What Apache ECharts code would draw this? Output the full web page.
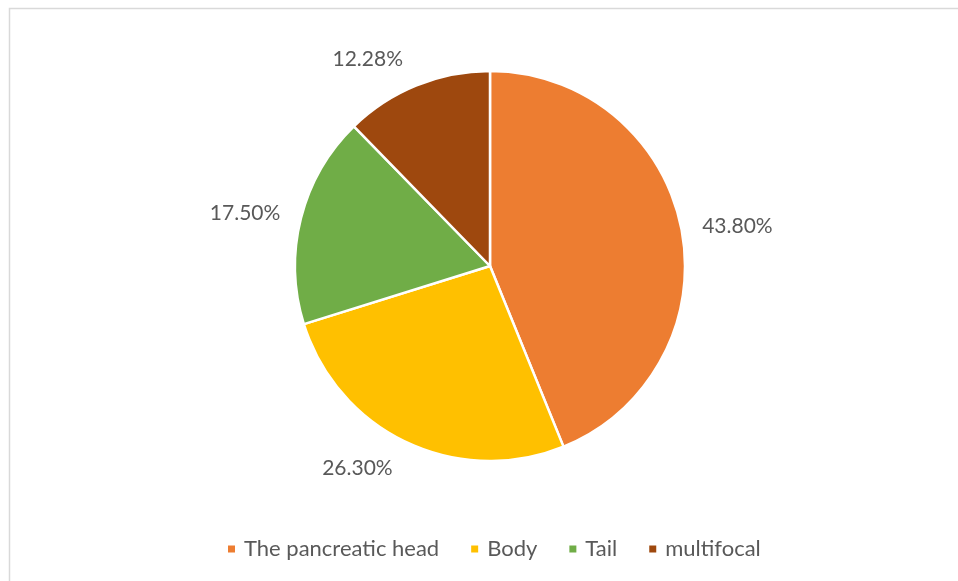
<!DOCTYPE html>
<html>
<head>
<meta charset="utf-8">
<script src="https://cdn.jsdelivr.net/npm/echarts@6/dist/echarts.min.js"></script>
<style>
html,body{margin:0;padding:0;background:#fff;}
#chart{width:958px;height:581px;}
</style>
</head>
<body>
<div id="chart"></div>
<script>
const categories = ['The pancreatic head', 'Body', 'Tail', 'multifocal'];
const values = [43.80, 26.30, 17.50, 12.28];
const colors = ['#ED7D31', '#FFC000', '#70AD47', '#9E480E'];

const chart = echarts.init(document.getElementById('chart'));
const font = 'Lato, "Noto Sans", sans-serif';
const labelShiftY = [0, 15, -2, -15];
chart.setOption({
  animation: false,
  color: colors,
  graphic: [{
    type: 'rect',
    silent: true,
    shape: {x: 9.5, y: 8.5, width: 2000, height: 2000},
    style: {fill: 'none', stroke: '#d9d9d9', lineWidth: 1.5}
  }],
  legend: {
    bottom: 16,
    left: 221,
    padding: 5,
    icon: 'rect',
    itemWidth: 9,
    itemHeight: 9,
    itemGap: 30,
    textStyle: {fontFamily: font, fontSize: 22, color: '#595959', padding: [0, 0, 0, 3]},
    data: categories
  },
  series: [{
    type: 'pie',
    center: [490, 266],
    radius: [0, 195],
    startAngle: 90,
    clockwise: true,
    itemStyle: {borderColor: '#fff', borderWidth: 2.5},
    label: {
      show: true,
      position: 'outside',
      fontFamily: font,
      fontSize: 21,
      color: '#595959',
      formatter: p => p.value.toFixed(2) + '%'
    },
    labelLine: {show: false, length: 12, length2: 4},
    labelLayout: p => ({dy: labelShiftY[p.dataIndex]}),
    emphasis: {disabled: true},
    data: categories.map((c, i) => ({name: c, value: values[i]}))
  }]
});
</script>
</body>
</html>
